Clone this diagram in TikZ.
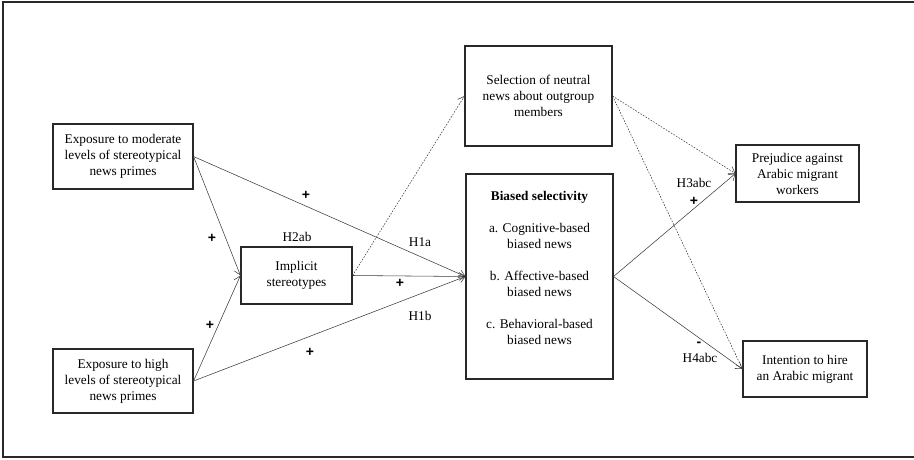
\documentclass[tikz,border=0pt]{standalone}
\usepackage{fontspec}
\setmainfont{Liberation Serif}
\newfontfamily\signfont{Liberation Sans}
\usepackage{xcolor}
\usepackage{tikz}
\usetikzlibrary{arrows.meta, positioning}
\definecolor{boxline}{RGB}{40,40,40}
\definecolor{arrline}{RGB}{60,60,60}
\tikzset{
  varbox/.style={rectangle, draw=boxline, line width=1.1pt, align=center,
    inner sep=2pt, font=\fontsize{13.3}{16}\selectfont},
  path/.style={-{Straight Barb[length=6pt,width=8pt]}, line width=0.55pt, color=arrline},
  dpath/.style={path, dash pattern=on 1.6pt off 1.4pt},
  sign/.style={font=\signfont\fontsize{14}{15}\selectfont\bfseries, inner sep=0pt},
  hyp/.style={font=\fontsize{13.3}{16}\selectfont, inner sep=0pt}
}

\begin{document}
\begin{tikzpicture}[x=1pt, y=-1pt]
  \useasboundingbox (0,0) rectangle (914,459);
  \draw[line width=1.2pt, color=boxline] (914,2) -- (3,2) -- (3,457) -- (914,457);
  % variables
  \node[varbox, minimum width=140pt, minimum height=65pt] (mod) at (123,156.5)
    {Exposure to moderate\\levels of stereotypical\\news primes};
  \node[varbox, minimum width=140pt, minimum height=64pt] (high) at (123,381)
    {Exposure to high\\levels of stereotypical\\news primes};
  \node[varbox, minimum width=111pt, minimum height=57pt] (impl) at (296.5,275.5)
    {Implicit\\stereotypes};
  \node[varbox, minimum width=147pt, minimum height=100pt] (neut) at (538.5,96)
    {Selection of neutral\\news about outgroup\\members};
  \node[varbox, minimum width=147pt, minimum height=205pt] (bias) at (539.5,276.5)
    {\textbf{Biased selectivity}\\[16pt]a. Cognitive-based\\biased news\\[16pt]
     b. Affective-based\\biased news\\[16pt]c. Behavioral-based\\biased news\\[2pt]~};
  \node[varbox, minimum width=123pt, minimum height=57pt] (prej) at (797.5,173.5)
    {Prejudice against\\Arabic migrant\\workers};
  \node[varbox, minimum width=124pt, minimum height=56pt] (hire) at (805,369)
    {Intention to hire\\an Arabic migrant};
  % paths
  \draw[path] (mod.east) -- (impl.west);
  \draw[path] (high.east) -- (impl.west);
  \draw[path] (mod.east) -- (bias.west);
  \draw[path] (high.east) -- (bias.west);
  \draw[path] (impl.east) -- (bias.west);
  \draw[dpath] (impl.east) -- (neut.west);
  \draw[dpath] (neut.east) -- (prej.west);
  \draw[dpath] (neut.east) -- (hire.west);
  \draw[path] (bias.east) -- (prej.west);
  \draw[path] (bias.east) -- (hire.west);
  % signs and hypotheses
  \node[sign] (s1) at (212,238) {+};
  \node[sign] (s2) at (210,325) {+};
  \node[sign] (s3) at (306,195) {+};
  \node[sign] (s4) at (400,283) {+};
  \node[sign] (s5) at (310,352) {+};
  \node[sign] (s6) at (694,201) {+};
  \node[sign] (s7) at (699,344) {-};
  \node[hyp] (h2) at (297,237) {H2ab};
  \node[hyp] (h1a) at (420,242) {H1a};
  \node[hyp] (h1b) at (420,316) {H1b};
  \node[hyp] (h3) at (694,183) {H3abc};
  \node[hyp] (h4) at (700,358) {H4abc};
\end{tikzpicture}
\end{document}
